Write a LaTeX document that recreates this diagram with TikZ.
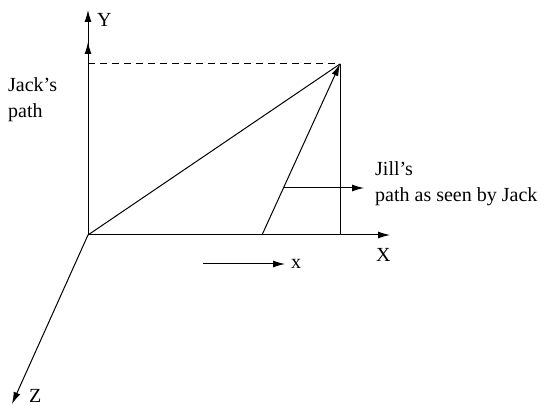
\documentclass[tikz,border=0pt]{standalone}
\usepackage{fontspec}
\setmainfont{Liberation Serif}
\usetikzlibrary{arrows.meta}
\begin{document}
\begin{tikzpicture}[x=1pt,y=-1pt,
  line/.style={line width=1pt},
  arr/.style={line width=1pt,-{Latex[length=12pt,width=7pt]}},
  lbl/.style={font=\fontsize{20}{26}\selectfont,inner sep=0pt}]
\useasboundingbox (0,0) rectangle (541,406);
\coordinate (O) at (88,235);
\coordinate (Ytop) at (88,10);
\coordinate (P) at (340,64);
\coordinate (Pd) at (88,64);
\coordinate (Xe) at (390,235);
\coordinate (Xb) at (340,235);
\coordinate (B) at (262,235);
\coordinate (M) at (283,188);
\coordinate (Me) at (364,188);
\coordinate (Ze) at (12,404);
\coordinate (xs) at (203,264);
\coordinate (xe) at (285,264);
\draw[arr] (O) -- (Ytop);
\draw[arr] (O) -- (88,42);
\draw[line,dash pattern=on 7pt off 5pt] (Pd) -- (P);
\draw[line] (Xb) -- (P);
\draw[line] (O) -- (P);
\draw[arr] (B) -- (P);
\draw[arr] (O) -- (Xe);
\draw[arr] (M) -- (Me);
\draw[arr] (O) -- (Ze);
\draw[arr] (xs) -- (xe);
\node[lbl,anchor=west] (ly) at (97,20) {Y};
\node[lbl,anchor=west] (lx) at (376,255) {X};
\node[lbl,anchor=west] (lz) at (29,396) {Z};
\node[lbl,anchor=west] (lsx) at (291,264) {x};
\node[lbl,anchor=west,align=left] (jack) at (8,100) {Jack’s\\path};
\node[lbl,anchor=west,align=left] (jill) at (375,184) {Jill’s\\path as seen by Jack};
\end{tikzpicture}
\end{document}
